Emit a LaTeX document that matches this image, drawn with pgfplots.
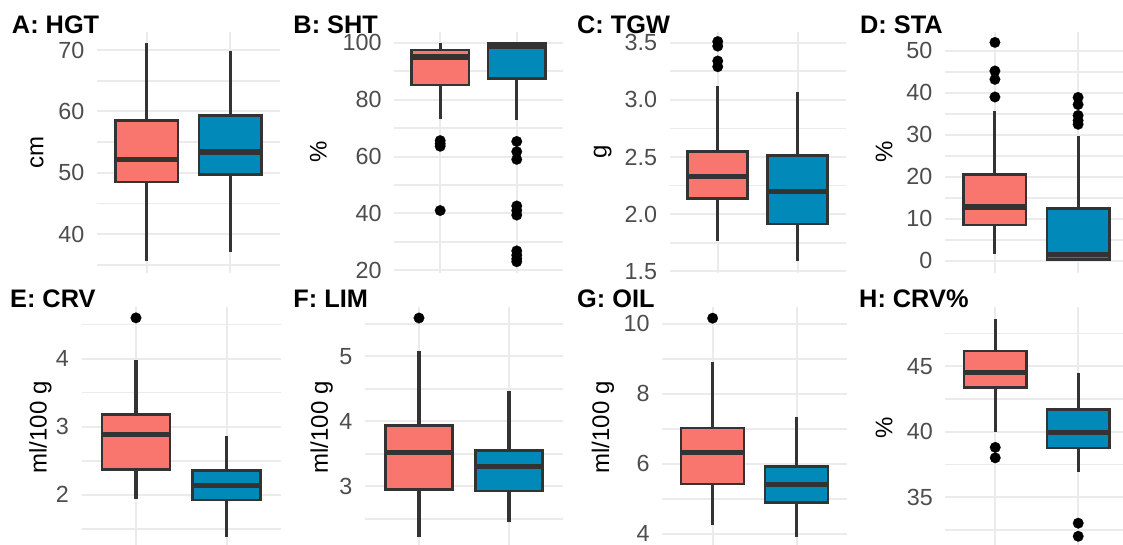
\documentclass[border=0pt]{standalone}
\usepackage{pgfplots}
\pgfplotsset{compat=1.18}
\usepgfplotslibrary{statistics}
\usepackage{fontspec}
\setmainfont{Liberation Sans}
\definecolor{bred}{RGB}{248,118,109}
\definecolor{bblue}{RGB}{0,137,185}
\definecolor{bline}{RGB}{51,51,51}
\definecolor{gridc}{RGB}{235,235,235}
\definecolor{tickc}{RGB}{77,77,77}
\newcommand{\ticksz}{\fontsize{17.5}{20}\selectfont}
\newcommand{\titlesz}{\fontsize{19}{22}\selectfont\bfseries}
\newcommand{\labsz}{\fontsize{18}{21}\selectfont}
\pgfplotsset{
 pstyle/.style={scale only axis, anchor=south west, xmin=0.4, xmax=2.6,
  xtick={1,2}, xticklabels={,,},
  axis line style={draw=none}, major tick length=0pt, minor tick length=0pt,
  xmajorgrids, ymajorgrids, yminorgrids,
  major grid style={draw=gridc, line width=1.5pt},
  minor grid style={draw=gridc, line width=1.2pt},
  yticklabel style={font=\ticksz, text=tickc, inner sep=0pt, xshift=-9.3pt},
  /pgf/number format/assume math mode=true,
  clip=false,
  boxplot/draw direction=y,
  boxplot/every box/.style={line width=1.9pt},
  boxplot/every whisker/.style={line width=2.3pt, line cap=butt},
  boxplot/every median/.style={line width=3.8pt}},
 bx/.style={draw=bline, line width=1.9pt, mark=*, mark size=4pt,
  mark options={fill=black, draw=black, line width=0.1pt}, fill=#1},
}
\begin{document}
\begin{tikzpicture}
\useasboundingbox (0,0) rectangle (842.25pt,-408pt);
% A: HGT
\begin{axis}[pstyle, at={(72.75pt,-204.375pt)}, width=137.25pt, height=180.6pt,
  ymin=33.79, ymax=72.98, ytick={40,50,60,70}, minor ytick={35,45,55,65}]
\addplot[bx=bred, boxplot prepared={draw position=1, box extend=0.75, whisker extend=0,
  lower whisker=35.6, lower quartile=48.5, median=52.2, upper quartile=58.5, upper whisker=71.2}] coordinates {};
\addplot[bx=bblue, boxplot prepared={draw position=2, box extend=0.75, whisker extend=0,
  lower whisker=37.2, lower quartile=49.7, median=53.4, upper quartile=59.3, upper whisker=69.9}] coordinates {};
\end{axis}
% B: SHT
\begin{axis}[pstyle, at={(295.7pt,-204.375pt)}, width=126.3pt, height=180.6pt,
  ymin=19.2, ymax=103.9, ytick={20,40,60,80,100}, minor ytick={30,50,70,90}]
\addplot[bx=bred, boxplot prepared={draw position=1, box extend=0.75, whisker extend=0,
  lower whisker=73.1, lower quartile=85.1, median=95.0, upper quartile=97.4, upper whisker=100}]
  table[row sep=\\, y index=0] {v\\65.6\\64.5\\63.6\\41.0\\};
\addplot[bx=bblue, boxplot prepared={draw position=2, box extend=0.75, whisker extend=0,
  lower whisker=72.8, lower quartile=87.5, median=98.8, upper quartile=100, upper whisker=100}]
  table[row sep=\\, y index=0] {v\\65.3\\61.7\\59.0\\42.6\\41.0\\39.4\\26.8\\25.3\\24.0\\23.0\\};
\end{axis}
% C: TGW
\begin{axis}[pstyle, at={(502.3pt,-204.375pt)}, width=132pt, height=180.6pt,
  ymin=1.491, ymax=3.596, ytick={1.5,2.0,2.5,3.0,3.5}, minor ytick={1.75,2.25,2.75,3.25},
  yticklabel style={/pgf/number format/fixed, /pgf/number format/fixed zerofill, /pgf/number format/precision=1}]
\addplot[bx=bred, boxplot prepared={draw position=1, box extend=0.75, whisker extend=0,
  lower whisker=1.77, lower quartile=2.14, median=2.33, upper quartile=2.547, upper whisker=3.12}]
  table[row sep=\\, y index=0] {v\\3.51\\3.47\\3.34\\3.29\\};
\addplot[bx=bblue, boxplot prepared={draw position=2, box extend=0.75, whisker extend=0,
  lower whisker=1.594, lower quartile=1.915, median=2.198, upper quartile=2.516, upper whisker=3.07}] coordinates {};
\end{axis}
% D: STA
\begin{axis}[pstyle, at={(708.75pt,-204.375pt)}, width=137.25pt, height=180.6pt,
  ymin=-2.8, ymax=54.55, ytick={0,10,20,30,40,50}, minor ytick={5,15,25,35,45}]
\addplot[bx=bred, boxplot prepared={draw position=1, box extend=0.75, whisker extend=0,
  lower whisker=1.6, lower quartile=8.55, median=12.8, upper quartile=20.5, upper whisker=35.6}]
  table[row sep=\\, y index=0] {v\\52.0\\45.2\\43.2\\39.0\\};
\addplot[bx=bblue, boxplot prepared={draw position=2, box extend=0.75, whisker extend=0,
  lower whisker=0, lower quartile=0.3, median=1.4, upper quartile=12.5, upper whisker=29.6}]
  table[row sep=\\, y index=0] {v\\38.9\\37.2\\34.6\\33.4\\32.5\\};
\end{axis}
% E: CRV
\begin{axis}[pstyle, at={(61.2pt,-410.625pt)}, width=149.55pt, height=180.4pt,
  ymin=1.224, ymax=4.76, ytick={2,3,4}, minor ytick={1.5,2.5,3.5,4.5}]
\addplot[bx=bred, boxplot prepared={draw position=1, box extend=0.75, whisker extend=0,
  lower whisker=1.93, lower quartile=2.37, median=2.88, upper quartile=3.18, upper whisker=3.985}]
  table[row sep=\\, y index=0] {v\\4.60\\};
\addplot[bx=bblue, boxplot prepared={draw position=2, box extend=0.75, whisker extend=0,
  lower whisker=1.38, lower quartile=1.92, median=2.14, upper quartile=2.36, upper whisker=2.86}] coordinates {};
\end{axis}
% F: LIM
\begin{axis}[pstyle, at={(273.75pt,-410.625pt)}, width=148.5pt, height=180.4pt,
  ymin=2.06, ymax=5.76, ytick={3,4,5}, minor ytick={2.5,3.5,4.5,5.5}]
\addplot[bx=bred, boxplot prepared={draw position=1, box extend=0.75, whisker extend=0,
  lower whisker=2.22, lower quartile=2.95, median=3.52, upper quartile=3.94, upper whisker=5.09}]
  table[row sep=\\, y index=0] {v\\5.59\\};
\addplot[bx=bblue, boxplot prepared={draw position=2, box extend=0.75, whisker extend=0,
  lower whisker=2.45, lower quartile=2.93, median=3.30, upper quartile=3.55, upper whisker=4.46}] coordinates {};
\end{axis}
% G: OIL
\begin{axis}[pstyle, at={(496.7pt,-410.625pt)}, width=138.5pt, height=180.4pt,
  ymin=3.61, ymax=10.48, ytick={4,6,8,10}, minor ytick={5,7,9}]
\addplot[bx=bred, boxplot prepared={draw position=1, box extend=0.75, whisker extend=0,
  lower whisker=4.24, lower quartile=5.42, median=6.33, upper quartile=7.02, upper whisker=8.91}]
  table[row sep=\\, y index=0] {v\\10.16\\};
\addplot[bx=bblue, boxplot prepared={draw position=2, box extend=0.75, whisker extend=0,
  lower whisker=3.90, lower quartile=4.89, median=5.40, upper quartile=5.93, upper whisker=7.33}] coordinates {};
\end{axis}
% H: CRV%
\begin{axis}[pstyle, at={(709.1pt,-410.625pt)}, width=136.9pt, height=180.4pt,
  ymin=31.14, ymax=49.54, ytick={35,40,45}, minor ytick={32.5,37.5,42.5,47.5}]
\addplot[bx=bred, boxplot prepared={draw position=1, box extend=0.75, whisker extend=0,
  lower whisker=39.95, lower quartile=43.39, median=44.56, upper quartile=46.17, upper whisker=48.64}]
  table[row sep=\\, y index=0] {v\\38.8\\38.0\\};
\addplot[bx=bblue, boxplot prepared={draw position=2, box extend=0.75, whisker extend=0,
  lower whisker=36.9, lower quartile=38.74, median=39.95, upper quartile=41.68, upper whisker=44.5}]
  table[row sep=\\, y index=0] {v\\33.0\\32.0\\};
\end{axis}
% titles
\node[anchor=base west, font=\titlesz, inner sep=0pt] at (8.8pt,-25pt) {A: HGT};
\node[anchor=base west, font=\titlesz, inner sep=0pt] at (219.9pt,-25pt) {B: SHT};
\node[anchor=base west, font=\titlesz, inner sep=0pt] at (432.6pt,-25pt) {C: TGW};
\node[anchor=base west, font=\titlesz, inner sep=0pt] at (644.9pt,-25pt) {D: STA};
\node[anchor=base west, font=\titlesz, inner sep=0pt] at (7.4pt,-230.6pt) {E: CRV};
\node[anchor=base west, font=\titlesz, inner sep=0pt] at (219.9pt,-230.6pt) {F: LIM};
\node[anchor=base west, font=\titlesz, inner sep=0pt] at (432.7pt,-230.6pt) {G: OIL};
\node[anchor=base west, font=\titlesz, inner sep=0pt] at (644.2pt,-230.6pt) {H: CRV\%};
% y labels
\node[rotate=90, anchor=center, font=\labsz, inner sep=0pt] at (27.75pt,-114pt) {cm};
\node[rotate=90, anchor=center, font=\labsz, inner sep=0pt] at (238.7pt,-114pt) {\%};
\node[rotate=90, anchor=center, font=\labsz, inner sep=0pt] at (452pt,-114pt) {g};
\node[rotate=90, anchor=center, font=\labsz, inner sep=0pt] at (663pt,-114pt) {\%};
\node[rotate=90, anchor=center, font=\labsz, inner sep=0pt] at (30.4pt,-320.6pt) {ml/100 g};
\node[rotate=90, anchor=center, font=\labsz, inner sep=0pt] at (241.3pt,-320.6pt) {ml/100 g};
\node[rotate=90, anchor=center, font=\labsz, inner sep=0pt] at (452.25pt,-320.6pt) {ml/100 g};
\node[rotate=90, anchor=center, font=\labsz, inner sep=0pt] at (663pt,-320.6pt) {\%};
\end{tikzpicture}
\end{document}
